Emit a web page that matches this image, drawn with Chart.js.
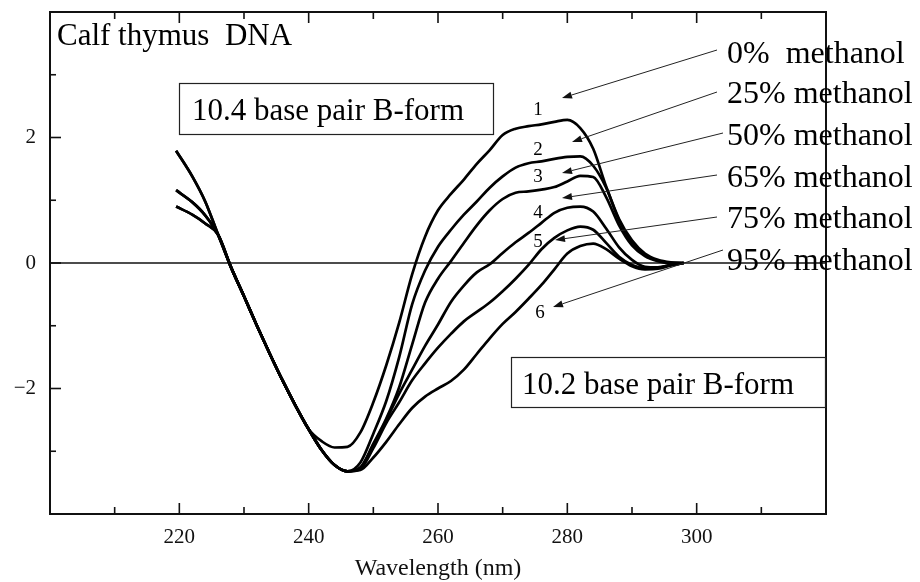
<!DOCTYPE html>
<html><head><meta charset="utf-8">
<script src="https://cdn.jsdelivr.net/npm/chart.js@4.4.0/dist/chart.umd.min.js"></script>
<style>html,body{margin:0;padding:0;background:#fff;}canvas{display:block;}</style>
</head><body>
<canvas id="c" width="920" height="582"></canvas>
<script>
// ---- data ----
const wavelengths = [219.5,222,224,226,228,230,232,234,236,238,240,242,244,246,248,250,252,254,256,258,260,262,264,266,268,270,272,274,276,278,280,282,284,286,288,290,292,294,296,298];
const curve1 = [1.79,1.38,0.98,0.45,-0.07,-0.53,-1.00,-1.45,-1.88,-2.28,-2.65,-2.84,-2.94,-2.93,-2.70,-2.22,-1.63,-0.95,-0.18,0.42,0.84,1.10,1.33,1.58,1.80,2.04,2.14,2.18,2.21,2.25,2.28,2.15,1.82,1.22,0.70,0.36,0.15,0.05,0.01,0.00];
const curve2 = [1.79,1.38,0.98,0.45,-0.07,-0.53,-1.00,-1.45,-1.88,-2.28,-2.65,-2.98,-3.22,-3.32,-3.18,-2.72,-2.20,-1.50,-0.66,-0.12,0.26,0.53,0.77,0.98,1.20,1.38,1.52,1.59,1.62,1.66,1.69,1.70,1.55,1.20,0.68,0.33,0.13,0.04,0.00,0.00];
const curve3 = [1.16,0.97,0.76,0.45,-0.07,-0.53,-1.00,-1.45,-1.88,-2.28,-2.65,-2.98,-3.22,-3.32,-3.26,-2.88,-2.48,-1.98,-1.30,-0.63,-0.25,0.03,0.32,0.60,0.84,1.02,1.12,1.14,1.17,1.21,1.30,1.39,1.37,1.05,0.60,0.28,0.11,0.03,0.00,0.00];
const curve4 = [1.16,0.97,0.76,0.45,-0.07,-0.53,-1.00,-1.45,-1.88,-2.28,-2.65,-2.98,-3.22,-3.32,-3.26,-2.90,-2.50,-2.08,-1.70,-1.32,-0.98,-0.62,-0.36,-0.15,-0.02,0.16,0.33,0.48,0.64,0.80,0.88,0.90,0.82,0.55,0.25,0.05,-0.06,-0.07,-0.03,0.00];
const curve5 = [0.90,0.77,0.63,0.45,-0.07,-0.53,-1.00,-1.45,-1.88,-2.28,-2.65,-2.98,-3.22,-3.32,-3.28,-2.95,-2.55,-2.22,-1.87,-1.60,-1.35,-1.13,-0.93,-0.78,-0.63,-0.45,-0.25,-0.03,0.22,0.40,0.52,0.58,0.53,0.32,0.10,-0.03,-0.08,-0.07,-0.03,0.00];
const curve6 = [0.90,0.77,0.63,0.45,-0.07,-0.53,-1.00,-1.45,-1.88,-2.28,-2.65,-2.98,-3.22,-3.32,-3.30,-3.10,-2.85,-2.57,-2.31,-2.13,-2.00,-1.88,-1.70,-1.45,-1.20,-0.97,-0.78,-0.57,-0.35,-0.10,0.15,0.27,0.31,0.22,0.07,-0.05,-0.10,-0.09,-0.04,0.00];
const seriesLabels = ['0%  methanol','25% methanol','50% methanol','65% methanol','75% methanol','95% methanol'];
const curveNumbers = ['1','2','3','4','5','6'];
const xTickLabels = [220,240,260,280,300];
const yTickLabels = [-2,0,2];
const xMinorTicks = [210,230,250,270,290,310];
const yMinorTicks = [-3,-1,1,3];

const allCurves = [curve1,curve2,curve3,curve4,curve5,curve6];
const SERIF = '"Liberation Serif", "Times New Roman", serif';

const overlay = {
  id: 'overlay',
  beforeDatasetsDraw(chart) {
    const {ctx, chartArea: a, scales: {y}} = chart;
    ctx.save();
    const y0 = y.getPixelForValue(0);
    ctx.strokeStyle = '#111'; ctx.lineWidth = 1.4;
    ctx.beginPath(); ctx.moveTo(a.left, y0); ctx.lineTo(a.right, y0); ctx.stroke();
    ctx.restore();
  },
  afterDatasetsDraw(chart) {
    const {ctx, chartArea: a, scales: {x, y}} = chart;
    ctx.save();
    ctx.strokeStyle = '#111'; ctx.lineWidth = 2;
    ctx.strokeRect(a.left, a.top, a.right - a.left, a.bottom - a.top);
    ctx.lineWidth = 1.6;
    const drawXT = (v, len) => {
      const p = x.getPixelForValue(v);
      ctx.beginPath(); ctx.moveTo(p, a.bottom); ctx.lineTo(p, a.bottom - len); ctx.stroke();
      ctx.beginPath(); ctx.moveTo(p, a.top); ctx.lineTo(p, a.top + len); ctx.stroke();
    };
    xTickLabels.forEach(v => drawXT(v, 11));
    xMinorTicks.forEach(v => drawXT(v, 7));
    const drawYT = (v, len) => {
      const p = y.getPixelForValue(v);
      ctx.beginPath(); ctx.moveTo(a.left, p); ctx.lineTo(a.left + len, p); ctx.stroke();
    };
    yTickLabels.forEach(v => drawYT(v, 11));
    yMinorTicks.forEach(v => drawYT(v, 6));

    ctx.lineWidth = 1.2; ctx.strokeStyle = '#222';
    ctx.fillStyle = '#fff';
    ctx.fillRect(179, 83, 314, 51); ctx.strokeRect(179.5, 83.5, 314, 51);
    ctx.fillRect(511, 357, 314, 50); ctx.strokeRect(511.5, 357.5, 314, 50);

    ctx.fillStyle = '#000';
    ctx.textBaseline = 'alphabetic';
    ctx.textAlign = 'left';
    ctx.font = '31px ' + SERIF;
    ctx.fillText('Calf thymus  DNA', 57, 45);
    ctx.fillText('10.4 base pair B-form', 192, 120);
    ctx.fillText('10.2 base pair B-form', 522, 394);

    ctx.font = '32px ' + SERIF;
    const baselines = [63, 103, 145, 187, 228, 270];
    seriesLabels.forEach((t, i) => ctx.fillText(t, 727, baselines[i]));

    ctx.font = '19px ' + SERIF;
    ctx.textAlign = 'center'; ctx.textBaseline = 'middle';
    const numPos = [[538,110],[538,150],[538,177],[538,213],[538,242],[540,313]];
    curveNumbers.forEach((t, i) => ctx.fillText(t, numPos[i][0], numPos[i][1]));

    const arrows = [[717,50,562,98],[717,92,572,142],[723,133,562,173],[717,175,562,198],[717,217,555,240],[723,250,553,307]];
    ctx.strokeStyle = '#222'; ctx.fillStyle = '#111'; ctx.lineWidth = 1;
    arrows.forEach(([x1,y1,x2,y2]) => {
      const ang = Math.atan2(y2 - y1, x2 - x1);
      const L = 10, W = 3.5;
      const bx = x2 - L * Math.cos(ang), by = y2 - L * Math.sin(ang);
      ctx.beginPath(); ctx.moveTo(x1, y1); ctx.lineTo(bx, by); ctx.stroke();
      ctx.beginPath();
      ctx.moveTo(x2, y2);
      ctx.lineTo(bx + W * Math.sin(ang), by - W * Math.cos(ang));
      ctx.lineTo(bx - W * Math.sin(ang), by + W * Math.cos(ang));
      ctx.closePath(); ctx.fill();
    });
    ctx.restore();
  }
};

new Chart(document.getElementById('c'), {
  type: 'line',
  data: {
    datasets: allCurves.map((s, k) => ({
      label: seriesLabels[k],
      data: wavelengths.map((w, i) => ({x: w, y: s[i]})),
      borderColor: '#000',
      borderWidth: 2.7,
      pointRadius: 0,
      fill: false,
      cubicInterpolationMode: 'monotone'
    }))
  },
  options: {
    responsive: false,
    animation: false,
    devicePixelRatio: 1,
    layout: {padding: {left: 0, top: 12, right: 94, bottom: 0}},
    plugins: {legend: {display: false}, tooltip: {enabled: false}},
    scales: {
      x: {
        type: 'linear', min: 200, max: 320,
        grid: {display: false, drawTicks: false},
        border: {display: false},
        ticks: {
          stepSize: 10, autoSkip: false, padding: 11, color: '#111', maxRotation: 0,
          font: {family: SERIF, size: 21},
          callback: v => xTickLabels.includes(v) ? String(v) : ''
        },
        title: {display: true, text: 'Wavelength (nm)', color: '#111',
          font: {family: SERIF, size: 24, lineHeight: 1.0}, padding: {top: 0, bottom: 1}},
        afterFit: s => { s.height = 68; s.paddingLeft = 0; s.paddingRight = 0; }
      },
      y: {
        min: -4, max: 4,
        grid: {display: false, drawTicks: false},
        border: {display: false},
        ticks: {
          stepSize: 1, autoSkip: false, padding: 14, color: '#111',
          font: {family: SERIF, size: 21},
          callback: v => yTickLabels.includes(v) ? (v < 0 ? '\u2212' + Math.abs(v) : String(v)) : ''
        },
        afterFit: s => { s.width = 50; s.paddingTop = 0; s.paddingBottom = 0; }
      }
    }
  },
  plugins: [overlay]
});
</script>
</body></html>
